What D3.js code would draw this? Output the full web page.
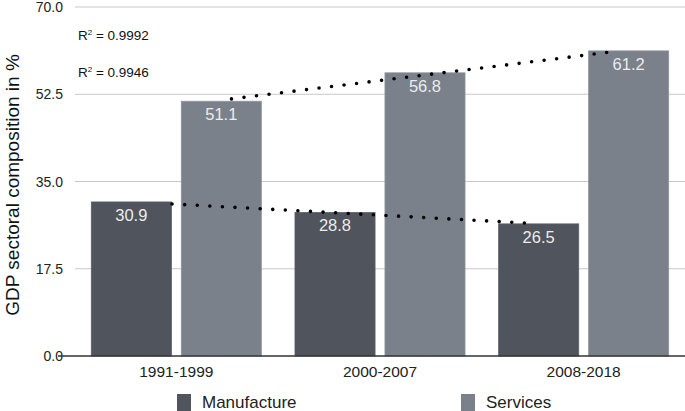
<!DOCTYPE html>
<html>
<head>
<meta charset="utf-8">
<script src="https://cdn.jsdelivr.net/npm/d3@7"></script>
<style>
  body { margin: 0; background: #fff; }
  svg { font-family: "Liberation Sans", Arial, sans-serif; display: block; }
</style>
</head>
<body>
<svg id="chart" width="685" height="411"></svg>
<script>
"use strict";

// /////// DATA
const periods = ["1991-1999", "2000-2007", "2008-2018"];
const seriesNames = ["Manufacture", "Services"];
const manufacture = [30.9, 28.8, 26.5];
const services = [51.1, 56.8, 61.2];
const yTicks = [0, 17.5, 35, 52.5, 70];
const rSquared = ["0.9992", "0.9946"];
// where each dotted trend line starts / ends, in category index units
const trendSpan = { Manufacture: [0.2, 1.966], Services: [0.05, 1.946] };

const colors = { Manufacture: "#50545c", Services: "#7b818a" };

// /////// SCALES
const svg = d3.select("#chart");
const plot = { left: 75, right: 685, top: 7, bottom: 356 };

const x = d3
  .scaleBand()
  .domain(periods)
  .range([plot.left, plot.right])
  .paddingInner(0.165)
  .paddingOuter(0.08);

const xSeries = d3
  .scaleBand()
  .domain(seriesNames)
  .range([0, x.bandwidth()])
  .paddingInner(0.11);

const y = d3.scaleLinear().domain([0, 70]).range([plot.bottom, plot.top]);

const values = { Manufacture: manufacture, Services: services };

// Gridlines
svg
  .append("g")
  .selectAll("line")
  .data(yTicks.filter((t) => t > 0))
  .join("line")
  .attr("x1", plot.left)
  .attr("x2", plot.right)
  .attr("y1", (d) => y(d))
  .attr("y2", (d) => y(d))
  .attr("stroke", "#c8c8c8")
  .attr("stroke-width", 1);

// Y tick labels
svg
  .append("g")
  .selectAll("text")
  .data(yTicks)
  .join("text")
  .attr("x", 63)
  .attr("y", (d) => y(d) + 5)
  .attr("text-anchor", "end")
  .style("font-size", "14px")
  .attr("fill", "#222")
  .text((d) => d3.format(".1f")(d));

// Y axis title
svg
  .append("text")
  .attr("transform", `translate(19, 185) rotate(-90)`)
  .attr("text-anchor", "middle")
  .style("font-size", "19px")
  .attr("fill", "#111")
  .text("GDP sectoral composition in %");

// Bars
const bars = [];
periods.forEach((p, i) => {
  seriesNames.forEach((s) => bars.push({ period: p, series: s, value: values[s][i] }));
});

svg
  .append("g")
  .selectAll("rect")
  .data(bars)
  .join("rect")
  .attr("x", (d) => x(d.period) + xSeries(d.series))
  .attr("y", (d) => y(d.value))
  .attr("width", xSeries.bandwidth())
  .attr("height", (d) => y(0) - y(d.value))
  .attr("fill", (d) => colors[d.series])
  .attr("stroke", (d) => d3.color(colors[d.series]).brighter(0.4))
  .attr("stroke-width", 0.8);

// Value labels
svg
  .append("g")
  .selectAll("text")
  .data(bars)
  .join("text")
  .attr("x", (d) => x(d.period) + xSeries(d.series) + xSeries.bandwidth() / 2)
  .attr("y", (d) => y(d.value) + 19)
  .attr("text-anchor", "middle")
  .style("font-size", "16.5px")
  .attr("fill", "#ececec")
  .text((d) => d.value.toFixed(1));

// Axis baseline
svg
  .append("line")
  .attr("x1", 58)
  .attr("x2", plot.right)
  .attr("y1", y(0))
  .attr("y2", y(0))
  .attr("stroke", "#333")
  .attr("stroke-width", 1.3);

// X labels
svg
  .append("g")
  .selectAll("text")
  .data(periods)
  .join("text")
  .attr("x", (d) => x(d) + x.bandwidth() / 2)
  .attr("y", 377)
  .attr("text-anchor", "middle")
  .style("font-size", "15.5px")
  .attr("fill", "#222")
  .text((d) => d);

// Trend lines (least squares fit over category index)
function fit(vals) {
  const mx = d3.mean(vals, (_, i) => i);
  const my = d3.mean(vals);
  const sxy = d3.sum(vals, (v, i) => (i - mx) * (v - my));
  const sxx = d3.sum(vals, (_, i) => (i - mx) * (i - mx));
  const slope = sxy / sxx;
  return (t) => my + slope * (t - mx);
}

seriesNames.forEach((s) => {
  const f = fit(values[s]);
  const centre = d3
    .scaleLinear()
    .domain([0, periods.length - 1])
    .range([
      x(periods[0]) + xSeries(s) + xSeries.bandwidth() / 2,
      x(periods[periods.length - 1]) + xSeries(s) + xSeries.bandwidth() / 2,
    ]);
  const [t0, t1] = trendSpan[s];
  svg
    .append("line")
    .attr("x1", centre(t0))
    .attr("y1", y(f(t0)))
    .attr("x2", centre(t1))
    .attr("y2", y(f(t1)))
    .attr("stroke", "#000")
    .attr("stroke-width", 3.6)
    .attr("stroke-linecap", "round")
    .attr("stroke-dasharray", "0 12.6");
});

// R² labels
const rLab = svg
  .append("g")
  .selectAll("text")
  .data(rSquared)
  .join("text")
  .attr("x", 78)
  .attr("y", (d, i) => 40 + i * 37)
  .style("font-size", "13.5px")
  .attr("fill", "#111");
rLab.append("tspan").text("R");
rLab.append("tspan").attr("dy", -5).style("font-size", "8px").text("2");
rLab
  .append("tspan")
  .attr("dy", 5)
  .text((d) => ` = ${d}`);

// Legend
const legendX = [177, 461];
const legend = svg
  .append("g")
  .selectAll("g")
  .data(seriesNames)
  .join("g")
  .attr("transform", (d, i) => `translate(${legendX[i]}, 394)`);

legend
  .append("rect")
  .attr("width", 14)
  .attr("height", 17)
  .attr("fill", (d) => colors[d]);

legend
  .append("text")
  .attr("x", 25)
  .attr("y", 14)
  .style("font-size", "17px")
  .attr("fill", "#222")
  .text((d) => d);
</script>
</body>
</html>
